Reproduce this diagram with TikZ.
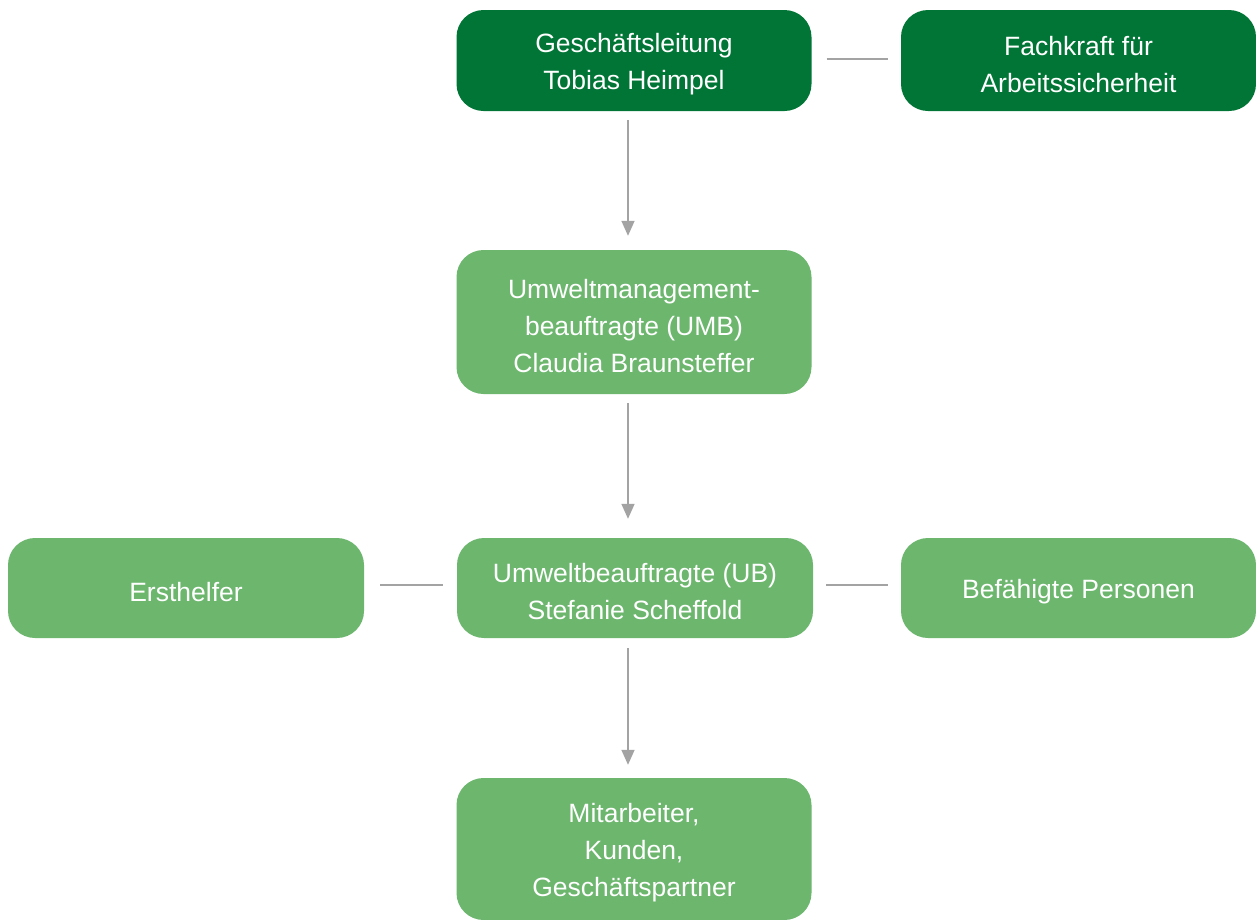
\documentclass[tikz,border=0pt]{standalone}
\usepackage{fontspec}
\setmainfont{Liberation Sans}
\usetikzlibrary{arrows.meta}
\definecolor{darkgr}{HTML}{007536}
\definecolor{lightgr}{HTML}{6CB66E}
\definecolor{conn}{HTML}{A3A3A3}
\begin{document}
\begin{tikzpicture}[x=1pt,y=-1pt,
  box/.style={rounded corners=27pt, inner sep=0pt, minimum width=355pt},
  lab/.style={text=white, align=center, inner sep=0pt, yshift=-4pt,
    font=\fontsize{26.5}{37}\selectfont},
  dbox/.style={box, fill=darkgr},
  lbox/.style={box, fill=lightgr},
  conline/.style={draw=conn, line width=1.6pt},
  conarrow/.style={conline, -{Triangle[length=15pt,width=13pt]}}]
\useasboundingbox (0,0) rectangle (1256,919);
\node[dbox, minimum height=101pt, label={[lab]center:{Geschäftsleitung\\Tobias Heimpel}}] (gl) at (634,60.5) {};
\node[dbox, minimum height=101pt, label={[lab]center:{Fachkraft für\\Arbeitssicherheit}}] (fk) at (1078.5,60.5) {};
\node[lbox, minimum height=144pt, label={[lab]center:{Umweltmanagement-\\beauftragte (UMB)\\Claudia Braunsteffer}}] (umb) at (634,322) {};
\node[lbox, minimum height=100pt, minimum width=356pt, label={[lab]center:{Umweltbeauftragte (UB)\\Stefanie Scheffold}}] (ub) at (635,588) {};
\node[lbox, minimum height=100pt, minimum width=356pt, label={[lab]center:{Ersthelfer}}] (eh) at (186,588) {};
\node[lbox, minimum height=100pt, label={[lab]center:{Befähigte Personen}}] (bp) at (1078.5,588) {};
\node[lbox, minimum height=142pt, label={[lab]center:{Mitarbeiter,\\Kunden,\\Geschäftspartner}}] (ma) at (634,849) {};
\draw[conline, shorten <=15pt, shorten >=13pt] (gl.east |- 0,59) -- (fk.west |- 0,59);
\draw[conarrow, shorten <=9pt, shorten >=14pt] (gl.south -| 628,0) -- (umb.north -| 628,0);
\draw[conarrow, shorten <=9pt, shorten >=19pt] (umb.south -| 628,0) -- (ub.north -| 628,0);
\draw[conarrow, shorten <=10pt, shorten >=13pt] (ub.south -| 628,0) -- (ma.north -| 628,0);
\draw[conline, shorten <=16pt, shorten >=14pt] (eh.east |- 0,585) -- (ub.west |- 0,585);
\draw[conline, shorten <=13pt, shorten >=13pt] (ub.east |- 0,585) -- (bp.west |- 0,585);
\end{tikzpicture}
\end{document}
